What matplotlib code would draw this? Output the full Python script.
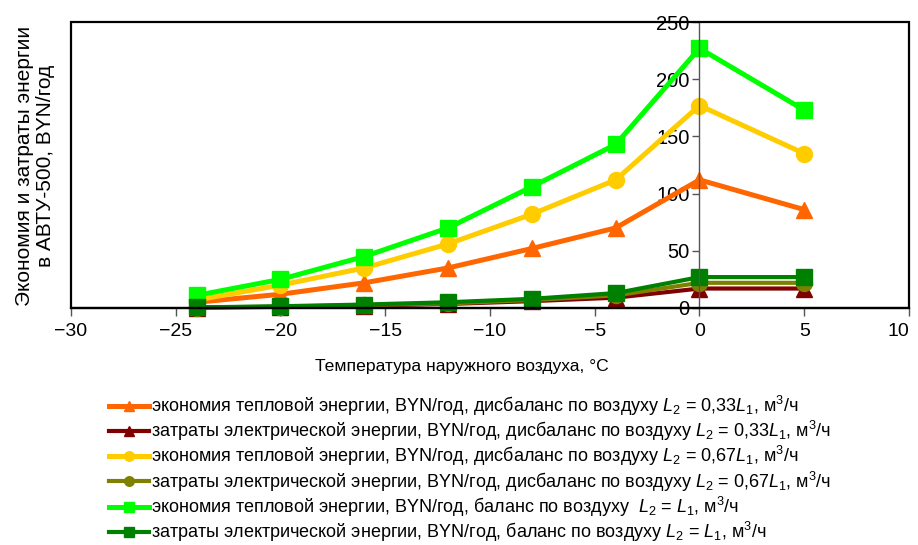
import matplotlib
matplotlib.use("Agg")
import matplotlib.pyplot as plt
from matplotlib.patches import Rectangle

plt.rcParams['font.family'] = ['Liberation Sans', 'DejaVu Sans']
plt.rcParams['mathtext.fontset'] = 'custom'
plt.rcParams['mathtext.rm'] = 'Liberation Sans'
plt.rcParams['mathtext.it'] = 'Liberation Sans:italic'

# Outdoor temperature, °C
temperature = [-24, -20, -16, -12, -8, -4, 0, 5]

# Heat savings and electricity costs, BYN/year
heat_033 = [5, 12, 22, 35, 52, 70, 112, 86]
elec_033 = [0.3, 1.0, 2.0, 3.5, 6.0, 9.0, 17, 17]
heat_067 = [7, 20, 35, 56, 82, 112, 177, 135]
elec_067 = [0.4, 1.2, 2.5, 4.0, 7.0, 11, 22, 22]
heat_bal = [11, 25, 45, 70, 106, 143, 227, 173]
elec_bal = [0.5, 1.5, 3.0, 5.0, 8.0, 13, 27, 27]

labels = [
    r"экономия тепловой энергии, BYN/год, дисбаланс по воздуху $L_2$ = 0,33$L_1$, м$^3$/ч",
    r"затраты электрической энергии, BYN/год, дисбаланс по воздуху $L_2$ = 0,33$L_1$, м$^3$/ч",
    r"экономия тепловой энергии, BYN/год, дисбаланс по воздуху $L_2$ = 0,67$L_1$, м$^3$/ч",
    r"затраты электрической энергии, BYN/год, дисбаланс по воздуху $L_2$ = 0,67$L_1$, м$^3$/ч",
    r"экономия тепловой энергии, BYN/год, баланс по воздуху  $L_2$ = $L_1$, м$^3$/ч",
    r"затраты электрической энергии, BYN/год, баланс по воздуху $L_2$ = $L_1$, м$^3$/ч",
]

series = [heat_033, elec_033, heat_067, elec_067, heat_bal, elec_bal]
colors = ["#FF6600", "#800000", "#FFCC00", "#808000", "#00FF00", "#008000"]
markers = ["^", "^", "o", "o", "s", "s"]
widths = [3.6, 3.0, 3.6, 3.0, 3.6, 3.0]

fig = plt.figure(figsize=(9.18, 5.45), dpi=100)
ax = fig.add_axes([0.0773, 0.4349, 0.9129, 0.5247])

for y, c, m, lw, lab in zip(series, colors, markers, widths, labels):
    ax.plot(temperature, y, color=c, marker=m, markersize=11.5, lw=lw,
            markeredgecolor=c, label=lab, clip_on=False)

ax.set_xlim(-30, 10)
ax.set_ylim(0, 250)
ax.set_xticks(range(-30, 11, 5))
ax.set_xticklabels(["\u221230", "\u221225", "\u221220", "\u221215", "\u221210",
                    "\u22125", "0", "5", "10"])
ax.get_xticklabels()[-1].set_horizontalalignment('right')
ax.set_yticks(range(0, 251, 50))

# y axis runs through x = 0, framed box around the plot area
ax.spines['left'].set_position(('data', 0))
ax.spines['left'].set_color('#555555')
ax.spines['left'].set_linewidth(1.0)
for s in ['top', 'right']:
    ax.spines[s].set_visible(False)
ax.spines['bottom'].set_linewidth(1.6)
ax.add_patch(Rectangle((0, 0), 1, 1, transform=ax.transAxes, fill=False,
                       lw=1.6, edgecolor='black', zorder=5, clip_on=False))

ax.tick_params(axis='y', direction='out', length=5, width=1, color='#555555',
               labelsize=14.5, pad=2)
ax.tick_params(axis='x', direction='out', length=6, width=1, color='#555555',
               labelsize=14, pad=5)

ax.set_xlabel("Температура наружного воздуха, °C", fontsize=12.6)
ax.xaxis.set_label_coords(0.4666, -0.178)
fig.text(0.038, 0.695, "Экономия и затраты энергии\nв АВТУ-500, BYN/год",
         rotation=90, ha='center', va='center', fontsize=15, linespacing=1.1)

handles, labs = ax.get_legend_handles_labels()
fig.legend(handles, labs, loc='upper left', bbox_to_anchor=(0.119, 0.277),
           frameon=False, fontsize=12.95, handlelength=2.2, handletextpad=0.1,
           labelspacing=0.06, markerscale=0.6, borderaxespad=0, borderpad=0)

fig.savefig("out.png", dpi=100)
